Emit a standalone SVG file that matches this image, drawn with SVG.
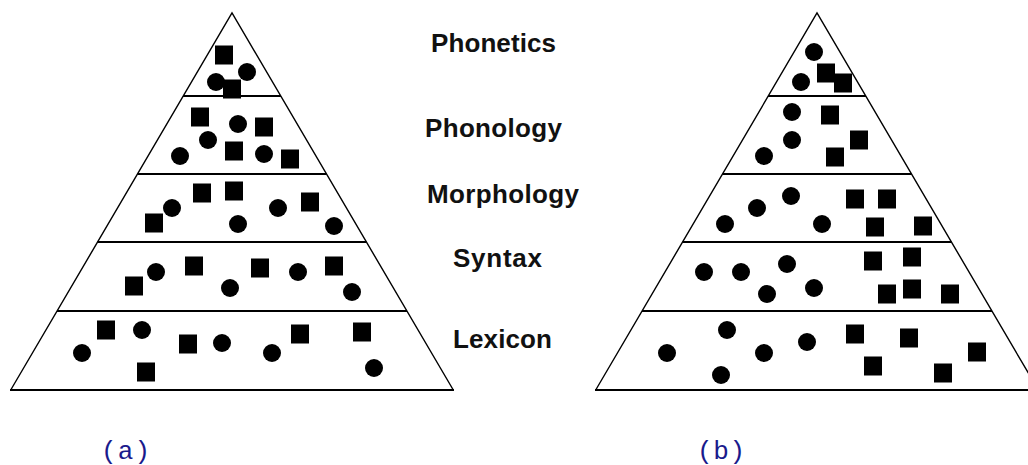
<svg xmlns="http://www.w3.org/2000/svg" xmlns:xlink="http://www.w3.org/1999/xlink" width="1028" height="465" viewBox="0 0 1028 465">
<style>
.edge{fill:none;stroke:#000;stroke-width:1.4}
.tier{stroke:#000;stroke-width:2}
.dot{fill:#000}
.lbl{font-family:"Liberation Sans",Arial,sans-serif;font-weight:bold;font-size:26px;fill:#111}
.cap{font-family:"Liberation Mono","Courier New",monospace;font-size:26px;fill:#1a1a8c}
</style>
<defs>
<rect id="sq" x="-9" y="-9.5" width="18" height="19" class="dot"/>
<circle id="ci" r="9" class="dot"/>
</defs>
<rect width="1028" height="465" fill="#fff"/>

<g id="connectors">
<g id="pyramid-a-outline">
<polyline class="edge" points="10.7,390 232,13 453.3,390"/>
<line class="tier" x1="183" y1="96" x2="281" y2="96"/>
<line class="tier" x1="137.5" y1="174" x2="326.5" y2="174"/>
<line class="tier" x1="97.6" y1="242" x2="366.4" y2="242"/>
<line class="tier" x1="57" y1="311" x2="407" y2="311"/>
<line class="tier" x1="10" y1="390" x2="454" y2="390"/>
</g>
<g id="pyramid-b-outline">
<polyline class="edge" points="595.7,390 817,13 1038.3,390"/>
<line class="tier" x1="768" y1="96" x2="866" y2="96"/>
<line class="tier" x1="722.5" y1="174" x2="911.5" y2="174"/>
<line class="tier" x1="682.6" y1="242" x2="951.4" y2="242"/>
<line class="tier" x1="642" y1="311" x2="992" y2="311"/>
<line class="tier" x1="595" y1="390" x2="1040" y2="390"/>
</g>
</g>

<g id="a-phonetics">
<use xlink:href="#sq" x="224" y="55"/>
<use xlink:href="#ci" x="247" y="72"/>
<use xlink:href="#ci" x="216" y="82"/>
<use xlink:href="#sq" x="232" y="89"/>
</g>
<g id="a-phonology">
<use xlink:href="#sq" x="200" y="117"/>
<use xlink:href="#ci" x="238" y="124"/>
<use xlink:href="#sq" x="264" y="127"/>
<use xlink:href="#ci" x="208" y="140"/>
<use xlink:href="#sq" x="234" y="151"/>
<use xlink:href="#ci" x="180" y="156"/>
<use xlink:href="#ci" x="264" y="154"/>
<use xlink:href="#sq" x="290" y="159"/>
</g>
<g id="a-morphology">
<use xlink:href="#sq" x="154" y="223"/>
<use xlink:href="#ci" x="172" y="208"/>
<use xlink:href="#sq" x="202" y="193"/>
<use xlink:href="#sq" x="234" y="191"/>
<use xlink:href="#ci" x="238" y="224"/>
<use xlink:href="#ci" x="278" y="208"/>
<use xlink:href="#sq" x="310" y="202"/>
<use xlink:href="#ci" x="334" y="226"/>
</g>
<g id="a-syntax">
<use xlink:href="#sq" x="134" y="286"/>
<use xlink:href="#ci" x="156" y="272"/>
<use xlink:href="#sq" x="194" y="266"/>
<use xlink:href="#ci" x="230" y="288"/>
<use xlink:href="#sq" x="260" y="268"/>
<use xlink:href="#ci" x="298" y="272"/>
<use xlink:href="#sq" x="334" y="266"/>
<use xlink:href="#ci" x="352" y="292"/>
</g>
<g id="a-lexicon">
<use xlink:href="#ci" x="82" y="353"/>
<use xlink:href="#sq" x="106" y="330"/>
<use xlink:href="#ci" x="142" y="330"/>
<use xlink:href="#sq" x="146" y="372"/>
<use xlink:href="#sq" x="188" y="344"/>
<use xlink:href="#ci" x="222" y="343"/>
<use xlink:href="#ci" x="272" y="353"/>
<use xlink:href="#sq" x="300" y="334"/>
<use xlink:href="#sq" x="362" y="332"/>
<use xlink:href="#ci" x="374" y="368"/>
</g>

<g id="b-phonetics">
<use xlink:href="#ci" x="814" y="52"/>
<use xlink:href="#sq" x="826" y="73"/>
<use xlink:href="#ci" x="801" y="82"/>
<use xlink:href="#sq" x="843" y="83"/>
</g>
<g id="b-phonology">
<use xlink:href="#ci" x="792" y="112"/>
<use xlink:href="#sq" x="830" y="115"/>
<use xlink:href="#ci" x="792" y="140"/>
<use xlink:href="#sq" x="859" y="140"/>
<use xlink:href="#ci" x="764" y="156"/>
<use xlink:href="#sq" x="835" y="157"/>
</g>
<g id="b-morphology">
<use xlink:href="#ci" x="791" y="196"/>
<use xlink:href="#ci" x="757" y="208"/>
<use xlink:href="#ci" x="725" y="224"/>
<use xlink:href="#ci" x="822" y="224"/>
<use xlink:href="#sq" x="855" y="199"/>
<use xlink:href="#sq" x="887" y="199"/>
<use xlink:href="#sq" x="875" y="227"/>
<use xlink:href="#sq" x="923" y="226"/>
</g>
<g id="b-syntax">
<use xlink:href="#ci" x="704" y="272"/>
<use xlink:href="#ci" x="741" y="272"/>
<use xlink:href="#ci" x="787" y="264"/>
<use xlink:href="#ci" x="767" y="294"/>
<use xlink:href="#ci" x="814" y="288"/>
<use xlink:href="#sq" x="873" y="261"/>
<use xlink:href="#sq" x="912" y="257"/>
<use xlink:href="#sq" x="887" y="294"/>
<use xlink:href="#sq" x="912" y="289"/>
<use xlink:href="#sq" x="950" y="294"/>
</g>
<g id="b-lexicon">
<use xlink:href="#ci" x="667" y="353"/>
<use xlink:href="#ci" x="727" y="330"/>
<use xlink:href="#ci" x="721" y="375"/>
<use xlink:href="#ci" x="764" y="353"/>
<use xlink:href="#ci" x="807" y="342"/>
<use xlink:href="#sq" x="855" y="334"/>
<use xlink:href="#sq" x="873" y="366"/>
<use xlink:href="#sq" x="909" y="338"/>
<use xlink:href="#sq" x="943" y="373"/>
<use xlink:href="#sq" x="977" y="352"/>
</g>

<g id="label-phonetics"><text class="lbl" x="431" y="52" textLength="125">Phonetics</text></g>
<g id="label-phonology"><text class="lbl" x="425" y="137" textLength="137">Phonology</text></g>
<g id="label-morphology"><text class="lbl" x="427" y="203" textLength="152">Morphology</text></g>
<g id="label-syntax"><text class="lbl" x="453" y="267" textLength="89">Syntax</text></g>
<g id="label-lexicon"><text class="lbl" x="453" y="348" textLength="99">Lexicon</text></g>

<g id="caption-a"><text class="cap" x="101" y="459" textLength="49">(a)</text></g>
<g id="caption-b"><text class="cap" x="697" y="459" textLength="48">(b)</text></g>
</svg>
